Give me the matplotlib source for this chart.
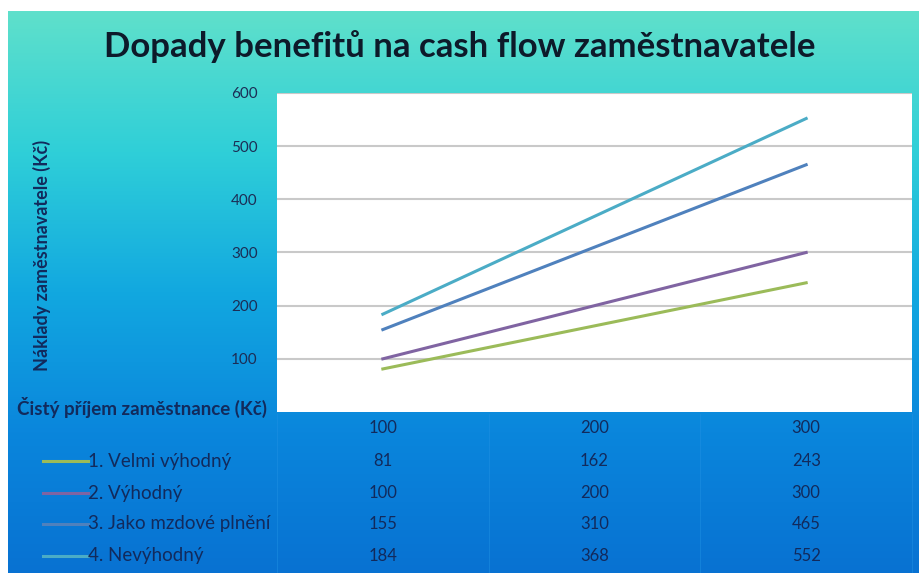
import numpy as np
import matplotlib.pyplot as plt
from matplotlib.colors import LinearSegmentedColormap
from matplotlib.transforms import blended_transform_factory

plt.rcParams['font.family'] = ['Lato', 'DejaVu Sans']

# data
categories = ["100", "200", "300"]
series_names = ["1. Velmi výhodný", "2. Výhodný", "3. Jako mzdové plnění", "4. Nevýhodný"]
velmi_vyhodny = [81, 162, 243]
vyhodny = [100, 200, 300]
mzdove_plneni = [155, 310, 465]
nevyhodny = [184, 368, 552]
series_values = [velmi_vyhodny, vyhodny, mzdove_plneni, nevyhodny]
colors = ["#9BBB59", "#8064A2", "#4F81BD", "#4BACC6"]
y_ticks = [100, 200, 300, 400, 500, 600]

W, H = 919, 573
fig = plt.figure(figsize=(W / 100, H / 100), dpi=100)
fig.patch.set_facecolor("white")

# gradient background
bg = fig.add_axes([8 / W, 0, 1 - 8 / W, 1 - 11 / H], zorder=-10)
cmap = LinearSegmentedColormap.from_list(
    "bg", ["#5fe0cb", "#2fcfd8", "#12a8e0", "#0a86dc", "#0872d2"])
grad = np.linspace(0, 1, 256).reshape(-1, 1)
bg.imshow(grad, aspect="auto", cmap=cmap, extent=[0, 1, 0, 1], origin="upper")
bg.set_axis_off()

# plot area
ax = fig.add_axes([277 / W, 1 - 412 / H, 635 / W, 319 / H])
ax.set_facecolor("white")
x = np.arange(len(categories))
for vals, c in zip(series_values, colors):
    ax.plot(x, vals, color=c, lw=2.2)
ax.set_xlim(-0.5, len(categories) - 0.5)
ax.set_ylim(0, 600)
ax.set_yticks(y_ticks)
ax.yaxis.grid(True, color="#c9c9c9", lw=1.5)
ax.set_axisbelow(True)
for s in ax.spines.values():
    s.set_visible(False)
ax.tick_params(axis="y", length=0, pad=14, labelsize=11, labelcolor="#1c2d55")
ax.set_xticks([])

txt_col = "#122a5c"
fig.text(460 / W, 1 - 47 / H, "Dopady benefitů na cash flow zaměstnavatele",
         ha="center", va="center", fontsize=25, fontweight="bold", color="#0d1a2a")
fig.text(42 / W, 1 - 255 / H, "Náklady zaměstnavatele (Kč)", rotation=90,
         ha="center", va="center", fontsize=13, fontweight="bold", color=txt_col)
fig.text(17 / W, 1 - 407 / H, "Čistý příjem zaměstnance (Kč)",
         ha="left", va="center", fontsize=13.5, fontweight="bold", color=txt_col)

# data table below the plot
tr = blended_transform_factory(ax.transData, fig.transFigure)
row_y = [461, 493, 524, 556]
for i, c in enumerate(categories):
    ax.text(i, 1 - 428 / H, c, transform=tr, ha="center", va="center",
            fontsize=12, color=txt_col)
for name, vals, col, yy in zip(series_names, series_values, colors, row_y):
    fy = 1 - yy / H
    fig.add_artist(plt.Line2D([43 / W, 88 / W], [fy, fy], color=col, lw=2.2))
    fig.text(88 / W, fy, name, ha="left", va="center", fontsize=13.5, color=txt_col)
    for i, v in enumerate(vals):
        ax.text(i, fy, str(v), transform=tr, ha="center", va="center",
                fontsize=12, color=txt_col)
for xb in [-0.5, 0.5, 1.5, 2.5]:
    ax.plot([xb, xb], [1 - 414 / H, 0], transform=tr, color="#1f90e2",
            lw=0.6, alpha=0.6, clip_on=False)

fig.savefig("out.png", dpi=100)
